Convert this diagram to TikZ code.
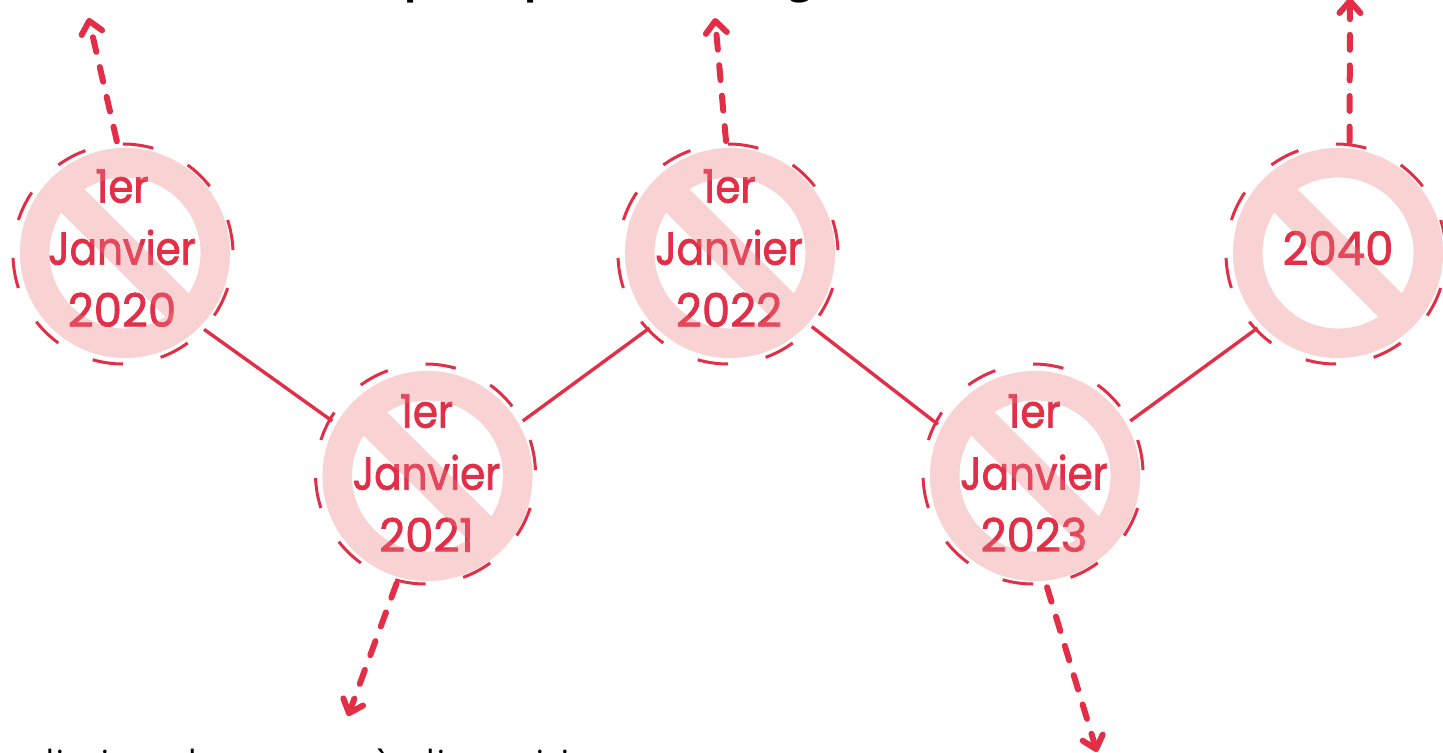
\documentclass[tikz,border=0pt]{standalone}
\usepackage{fontspec}
\usetikzlibrary{arrows.meta}
\setmainfont{Poppins}
\newfontfamily\labelfont[FakeStretch=0.88,FakeBold=1.6]{Poppins}
\newfontfamily\digitfont[FakeStretch=0.98,FakeBold=1.6]{Poppins}
\newfontfamily\capfont{Open Sans}
\definecolor{rouge}{HTML}{E22F47}
\definecolor{rose}{HTML}{F9D3D3}
\newcommand{\yr}[1]{{\digitfont #1}}
\tikzset{
  hub/.style={circle,minimum size=110pt,inner sep=0pt,outer sep=0pt},
  ringline/.style={rose,line width=14.75pt},
  barline/.style={rose,line width=16.5pt},
  dashring/.style={rouge,line width=1.5pt},
  link/.style={rouge,line width=1.7pt},
  futur/.style={rouge,line width=3pt,line cap=round,dash pattern=on 7.5pt off 7.8pt,
    -{Straight Barb[round,length=6pt,width=10.5pt]}},
  datelabel/.style={text=rouge,align=center,font=\labelfont\fontsize{23}{31}\selectfont,inner sep=0pt},
  toptext/.style={anchor=base,inner sep=0pt,font=\capfont\bfseries\fontsize{20}{24}\selectfont},
  bottext/.style={anchor=base,inner sep=0pt,font=\capfont\fontsize{18}{22}\selectfont}
}
\begin{document}
\begin{tikzpicture}[x=0.5pt,y=-0.5pt]
\useasboundingbox (0,0) rectangle (1443,753);
\begin{scope}
\clip (0,0) rectangle (1443,753);
\node[hub] (c1) at (125,253) {};
\node[hub] (c2) at (427.5,476) {};
\node[hub] (c3) at (730,253) {};
\node[hub] (c4) at (1035,476) {};
\node[hub] (c5) at (1338,253) {};
% rings
\foreach \n in {c1,c2,c3,c4,c5}{
  \draw[ringline] (\n.center) circle[radius=45.15pt];
  \draw[barline] ([shift={(135:45pt)}]\n.center) -- ([shift={(-45:45pt)}]\n.center);
}
% dashed outlines
\foreach \n/\dy in {c1/-0.5pt,c2/1pt,c3/-0.5pt,c4/1pt,c5/-0.5pt}{
  \foreach \a in {90,54,18,-18,-54,-90,-126,-162,-198,-234}{
    \draw[dashring] ([shift={(\a:55pt)},xshift=-1pt,yshift=\dy]\n.center) arc[start angle=\a,delta angle=-16,radius=55pt];
  }
}
% labels
\node[datelabel] (t1) at (122,248) {1er\\Janvier\\\yr{2020}};
\node[datelabel] (t2) at (426.5,473) {1er\\Janvier\\\yr{2021}};
\node[datelabel] (t3) at (729,248) {1er\\Janvier\\\yr{2022}};
\node[datelabel] (t4) at (1034,473) {1er\\Janvier\\\yr{2023}};
\node[datelabel] (t5) at (1338,248) {\yr{2040}};
% lightening of the text under the bars
\foreach \n in {c1,c2,c3,c4,c5}{
  \draw[ringline,opacity=.15] (\n.center) circle[radius=45.15pt];
  \draw[barline,opacity=.15] ([shift={(135:45pt)}]\n.center) -- ([shift={(-45:45pt)}]\n.center);
}
% connectors
\draw[link] (c1.-44) -- (c2.150);
\draw[link] (c2.30) -- (c3.223);
\draw[link] (c3.-42.5) -- (c4.152);
\draw[link] (c4.30) -- (c5.223);
% dashed arrows
\coordinate (e1) at (88.5,18);
\coordinate (e2) at (715,18);
\coordinate (e3) at (1350,-2);
\coordinate (e4) at (348,716);
\coordinate (e5) at (1097,752);
\draw[futur,shorten <=1pt] (c1.94) -- (e1);
\draw[futur,shorten <=1pt] (c3.92) -- (e2);
\draw[futur,shorten <=1pt] (c5.84) -- (e3);
\draw[futur,shorten <=1pt] (c2.254.3) -- (e4);
\draw[futur,shorten <=1pt] (c4.-84) -- (e5);
% cropped text at the edges
\node[toptext] (p1) at (417,-6) {p};
\node[toptext] (p2) at (537,-6) {p};
\node[toptext] (p3) at (801,-6) {g};
\node[bottext] (b1) at (50,776) {l};
\node[bottext] (b2) at (60,776) {i};
\node[bottext] (b3) at (105,776) {i};
\node[bottext] (b4) at (186,776) {d};
\node[bottext] (b5) at (383,776) {à};
\node[bottext] (b6) at (424,776) {d};
\node[bottext] (b7) at (441,776) {i};
\node[bottext] (b8) at (540,776) {i};
\node[bottext] (b9) at (565,776) {i};
\end{scope}
\end{tikzpicture}
\end{document}
